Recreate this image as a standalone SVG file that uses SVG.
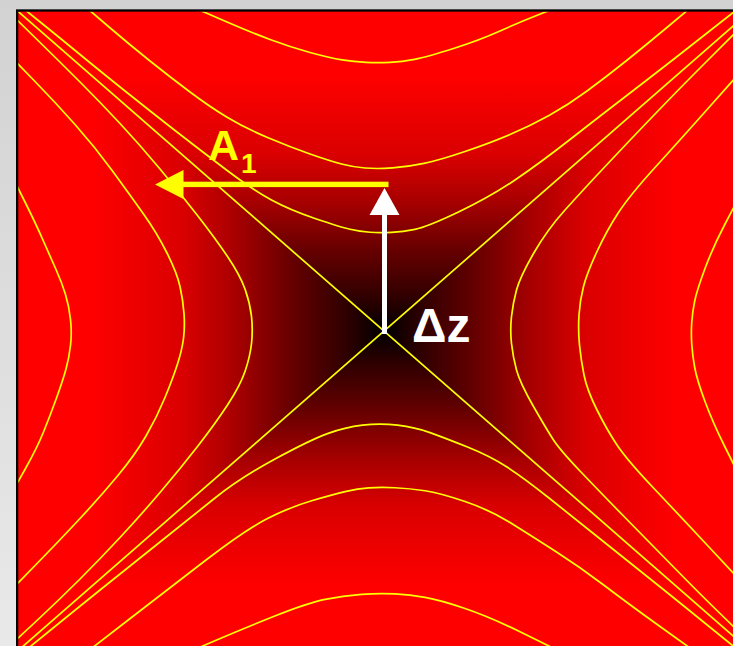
<svg xmlns="http://www.w3.org/2000/svg" width="733" height="646" viewBox="0 0 733 646">
<defs>
<linearGradient id="bg" x1="0" y1="0" x2="0" y2="646" gradientUnits="userSpaceOnUse">
<stop offset="0" stop-color="#d2d2d2"/><stop offset="1" stop-color="#e9e9e9"/>
</linearGradient>
<linearGradient id="gh" x1="17" y1="0" x2="751" y2="0" gradientUnits="userSpaceOnUse">
<stop offset="0" stop-color="#ff0000"/><stop offset="0.1" stop-color="#ff0000"/><stop offset="0.225" stop-color="#da0000"/><stop offset="0.3" stop-color="#a60000"/><stop offset="0.375" stop-color="#660000"/><stop offset="0.45" stop-color="#2e0000"/><stop offset="0.5" stop-color="#000000"/><stop offset="0.55" stop-color="#2e0000"/><stop offset="0.625" stop-color="#660000"/><stop offset="0.7" stop-color="#a60000"/><stop offset="0.775" stop-color="#da0000"/><stop offset="0.9" stop-color="#ff0000"/><stop offset="1" stop-color="#ff0000"/>
</linearGradient>
<linearGradient id="gv" x1="0" y1="10.5" x2="0" y2="651.5" gradientUnits="userSpaceOnUse">
<stop offset="0" stop-color="#ff0000"/><stop offset="0.1" stop-color="#ff0000"/><stop offset="0.225" stop-color="#da0000"/><stop offset="0.3" stop-color="#a60000"/><stop offset="0.375" stop-color="#660000"/><stop offset="0.45" stop-color="#2e0000"/><stop offset="0.5" stop-color="#000000"/><stop offset="0.55" stop-color="#2e0000"/><stop offset="0.625" stop-color="#660000"/><stop offset="0.7" stop-color="#a60000"/><stop offset="0.775" stop-color="#da0000"/><stop offset="0.9" stop-color="#ff0000"/><stop offset="1" stop-color="#ff0000"/>
</linearGradient>
<clipPath id="plot"><rect x="18" y="11.5" width="800" height="700"/></clipPath>
</defs>
<style>
.c{fill:none;stroke:#ffff00;stroke-width:1.7;stroke-linejoin:round}
.t{font-family:"Liberation Sans",Arial,sans-serif;font-weight:bold}
</style>
<rect id="background" x="0" y="0" width="733" height="646" fill="url(#bg)"/>
<g id="field">
<rect x="17" y="10.5" width="734" height="641" fill="url(#gh)"/>
<polygon points="17,10.5 751,10.5 384,331" fill="url(#gv)"/>
<polygon points="17,651.5 751,651.5 384,331" fill="url(#gv)"/>
</g>
<g id="contours" clip-path="url(#plot)">
<path class="c" d="M17,10.5 L751,651.5"/>
<path class="c" d="M751,10.5 L17,651.5"/>
<path class="c" d="M197,9 L223.5,20.5 Q250,32 270,39.5 Q290,47 310,52.5 Q330,58 342,59.85 Q354,61.7 366,62.35 Q378,63 390,62.3 Q402,61.6 414.5,59.3 Q427,57 453.5,48.5 Q480,40 500,31 Q520,22 536.5,15.5 L553,9"/>
<path class="c" d="M88,9 L109,27 Q130,45 150,61 Q170,77 190,92 Q210,107 227.5,117.5 Q245,128 267.5,137.5 Q290,147 310,154 Q330,161 341.5,164 Q353,167 365,168 Q377,169 392.5,167.9 Q408,166.8 424,163.4 Q440,160 465,151.5 Q490,143 510,134.5 Q530,126 549,115.5 Q568,105 587,91 Q606,77 626,61 Q646,45 667.5,27 L689,9"/>
<path class="c" d="M24,9 L42,23.5 Q60,38 80,54.5 Q100,71 125,91 Q150,111 175,130.5 Q200,150 226.5,170 Q253,190 271.5,200 Q290,210 315,218.5 Q340,227 350,229.25 Q360,231.5 370,232.25 Q380,233 391.5,232.3 Q403,231.6 415,229.3 Q427,227 458.5,212 Q490,197 515,180 Q540,163 570,139.5 Q600,116 630,93 Q660,70 697.5,40.5 L735,11"/>
<path class="c" d="M15,18 L37.5,40 Q60,62 80,82 Q100,102 120,123.5 Q140,145 160,169 Q180,193 197.5,215.5 Q215,238 227.5,256.5 Q240,275 245,289 Q250,303 251.5,316.5 Q253,330 251.5,343.5 Q250,357 245,371.5 Q240,386 227.5,405 Q215,424 197.5,446.5 Q180,469 160,492.5 Q140,516 120,537.5 Q100,559 80,579 Q60,599 37.5,620 L15,641"/>
<path class="c" d="M15,61 L35,81.5 Q55,102 75,124.5 Q95,147 112.5,171 Q130,195 143.5,214 Q157,233 167,253 Q177,273 180,286.5 Q183,300 184,313.5 Q185,327 183.5,338.5 Q182,350 177.5,364 Q173,378 165,397.5 Q157,417 146,436 Q135,455 117.5,476 Q100,497 80,518.5 Q60,540 37.5,563 L15,586"/>
<path class="c" d="M14,180 L24.5,201 Q35,222 42.5,239 Q50,256 56,269.5 Q62,283 65.5,294.5 Q69,306 70.5,319.5 Q72,333 70.5,345.5 Q69,358 66,369 Q63,380 56.5,398 Q50,416 43.5,432 Q37,448 25.5,468.5 L14,489"/>
<path class="c" d="M736,32 L708,60 Q680,88 655,114 Q630,140 606.5,165 Q583,190 565,210 Q547,230 533.5,253.5 Q520,277 516.5,290 Q513,303 511.5,316.5 Q510,330 511.5,343.5 Q513,357 516.5,370 Q520,383 533.5,406.5 Q547,430 553.5,440 Q560,450 580,471 Q600,492 625,517.5 Q650,543 675,568.5 Q700,594 718,611.5 L736,629"/>
<path class="c" d="M736,77 L708,108.5 Q680,140 655,167.5 Q630,195 618.5,212.5 Q607,230 597,251.5 Q587,273 583.5,286.5 Q580,300 579,315 Q578,330 579.5,345 Q581,360 584,375 Q587,390 597,410 Q607,430 617,445 Q627,460 653.5,488 Q680,516 708,546 L736,576"/>
<path class="c" d="M736,203 L724.5,225 Q713,247 705,268.5 Q697,290 694.75,300.75 Q692.5,311.5 691.75,322.25 Q691,333 691.75,344.25 Q692.5,355.5 694.75,367.75 Q697,380 705,401.5 Q713,423 724.5,446 L736,469"/>
<path class="c" d="M26,650 L58,624 Q90,598 115,578 Q140,558 165,538 Q190,518 215,498 Q240,478 275,459 Q310,440 327.5,433.6 Q345,427.3 362.5,425.2 Q380,423 397.5,425.2 Q415,427.3 430,432.6 Q445,438 467.5,447 Q490,456 507,467 Q524,478 549,498 Q574,518 599,538 Q624,558 649,578 Q674,598 706,624 L738,650"/>
<path class="c" d="M92,648 L129.5,619 Q167,590 206,560 Q245,530 267.5,518.5 Q290,507 312.5,500.5 Q335,494 346.25,491.4 Q357.5,488.75 368.75,487.9 Q380,487 395,487.75 Q410,488.5 425,490.75 Q440,493 465,501.5 Q490,510 510,522.5 Q530,535 555,551 Q580,567 605,586 Q630,605 660,626.5 L690,648"/>
<path class="c" d="M198,648 L219,639 Q240,630 273.5,616.5 Q307,603 325,599.3 Q343,595.6 361.5,594.3 Q380,593 395,593.9 Q410,594.75 425,597.4 Q440,600 465,608.5 Q490,617 521.5,632.5 L553,648"/>
</g>
<rect id="frame" x="17.15" y="10.5" width="800" height="700" fill="none" stroke="#000" stroke-width="2.3"/>
<g id="arrow-dz">
<rect x="382" y="212" width="5" height="122" fill="#ffffff"/>
<polygon points="384.5,188 369.5,215 399.5,215" fill="#ffffff"/>
</g>
<g id="arrow-a1">
<rect x="181" y="181.7" width="207.5" height="5.4" fill="#ffff00"/>
<polygon points="155,184.5 183.5,170 183.5,199" fill="#ffff00"/>
</g>
<g id="label-a1">
<text class="t" x="208" y="160" font-size="43" fill="#ffff00">A</text>
<text class="t" x="241" y="173" font-size="28" fill="#ffff00">1</text>
</g>
<g id="label-dz">
<text class="t" x="412" y="342" font-size="48" fill="#ffffff">Δz</text>
</g>
</svg>
